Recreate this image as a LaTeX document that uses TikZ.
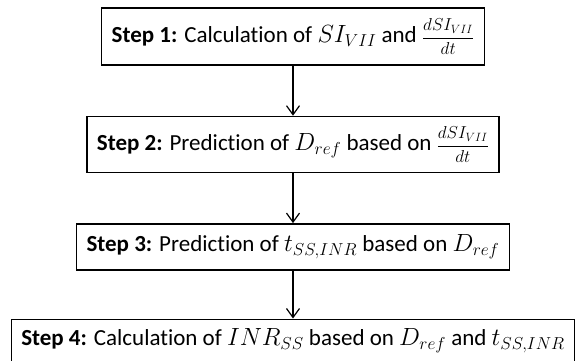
\documentclass[tikz,border=0pt]{standalone}
\usepackage{amsmath}
\usepackage{fontspec}
\setmainfont{Carlito}[Ligatures=NoCommon]
\usetikzlibrary{positioning,arrows.meta}
\tikzset{
	stepbox/.style={draw, rectangle, line width=1.4pt, inner xsep=10pt, align=center, font=\fontsize{23}{27}\selectfont},
	flowarrow/.style={line width=1.2pt, -{Straight Barb[length=9pt,width=13pt,line width=1.2pt]}}
}
\newcommand{\stepname}[1]{\textbf{Step #1:}}
\newcommand{\siRate}{{\fontsize{18}{20}\selectfont$\dfrac{dSI_{VII}}{dt}$}}

\begin{document}
\begin{tikzpicture}[x=1pt,y=-1pt,node distance=50pt]
	\useasboundingbox (0,0) rectangle (580,360);
	% Schritte
	\node[stepbox, minimum height=57pt] (calc) at (293,36.5) {\stepname{1} Calculation of $SI_{VII}$ and \siRate};
	\node[stepbox, minimum height=56pt, below=of calc] (dref) {\stepname{2} Prediction of $D_{ref}$ based on \siRate};
	\node[stepbox, minimum height=46pt, below=of dref] (tss) {\stepname{3} Prediction of $t_{SS,INR}$ based on $D_{ref}$};
	\node[stepbox, minimum height=43pt, below=48pt of tss] (inr) {\stepname{4} Calculation of $INR_{SS}$ based on $D_{ref}$ and $t_{SS,INR}$};
	
	% Pfeile
	\draw[flowarrow] (calc) -- (dref);
	\draw[flowarrow] (dref) -- (tss);
	\draw[flowarrow] (tss) -- (inr);
\end{tikzpicture}
\end{document}
